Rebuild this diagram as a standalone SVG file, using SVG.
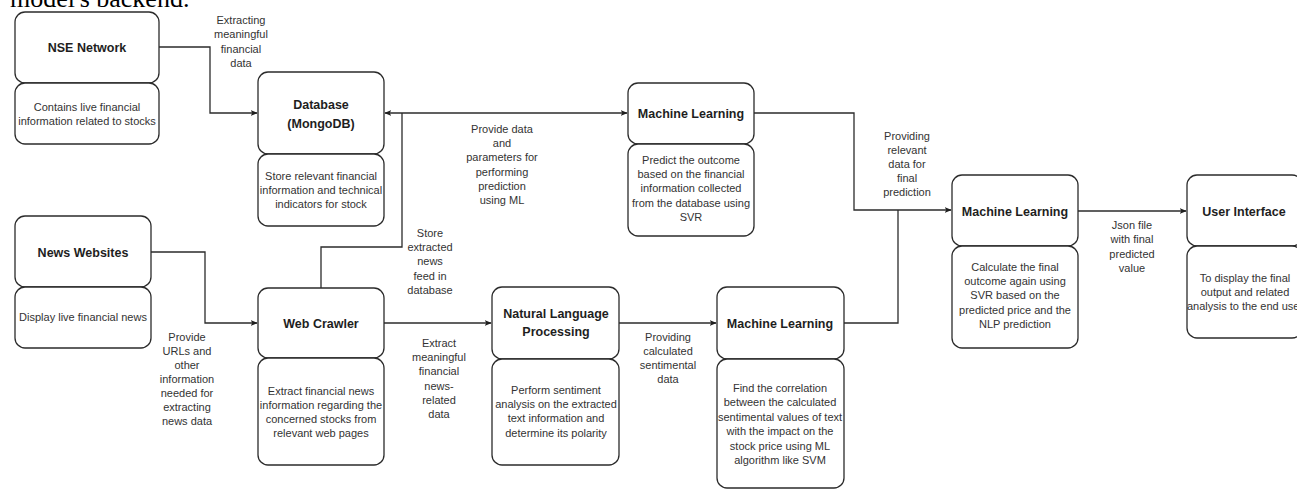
<svg xmlns="http://www.w3.org/2000/svg" width="1297" height="489" viewBox="0 0 1297 489">
<defs>
<style>
.box{fill:#fff;stroke:#2b2b2b;stroke-width:1.3}
.t{font-family:"Liberation Sans",Arial,sans-serif;font-size:12.5px;font-weight:bold;fill:#1e1e1e;text-anchor:middle}
.d{font-family:"Liberation Sans",Arial,sans-serif;font-size:11px;fill:#333;text-anchor:middle}
.l{font-family:"Liberation Sans",Arial,sans-serif;font-size:11px;fill:#333;text-anchor:middle}
.c{fill:none;stroke:#2b2b2b;stroke-width:1.3}
</style>
<marker id="ah" viewBox="0 0 10 10" refX="9" refY="5" markerWidth="7" markerHeight="7" orient="auto-start-reverse" markerUnits="userSpaceOnUse">
<path d="M0,1 L10,5 L0,9 L2.5,5 Z" fill="#1e1e1e"/>
</marker>
</defs>
<rect width="1297" height="489" fill="#fff"/>
<text x="10" y="7" font-family="'Liberation Serif','Times New Roman',serif" font-size="26" fill="#000">model's backend.</text>

<g id="connectors">
<path class="c" d="M159,47 H210 V113 H257" marker-end="url(#ah)"/>
<path class="c" d="M385,113 H627" marker-start="url(#ah)" marker-end="url(#ah)"/>
<path class="c" d="M321,288 V247 H402 V113"/>
<path class="c" d="M151,252 H205 V323 H257" marker-end="url(#ah)"/>
<path class="c" d="M384,323 H491" marker-end="url(#ah)"/>
<path class="c" d="M619,323 H716" marker-end="url(#ah)"/>
<path class="c" d="M754,113 H854 V210 H951" marker-end="url(#ah)"/>
<path class="c" d="M844,323 H898 V210"/>
<path class="c" d="M1078,211 H1186" marker-end="url(#ah)"/>
<text class="l" x="241" y="24"><tspan x="241">Extracting</tspan><tspan x="241" dy="14.3">meaningful</tspan><tspan x="241" dy="14.3">financial</tspan><tspan x="241" dy="14.3">data</tspan></text>
<text class="l" x="502" y="133"><tspan x="502">Provide data</tspan><tspan x="502" dy="14.2">and</tspan><tspan x="502" dy="14.2">parameters for</tspan><tspan x="502" dy="14.2">performing</tspan><tspan x="502" dy="14.2">prediction</tspan><tspan x="502" dy="14.2">using ML</tspan></text>
<text class="l" x="907" y="140"><tspan x="907">Providing</tspan><tspan x="907" dy="14">relevant</tspan><tspan x="907" dy="14">data for</tspan><tspan x="907" dy="14">final</tspan><tspan x="907" dy="14">prediction</tspan></text>
<text class="l" x="430" y="237"><tspan x="430">Store</tspan><tspan x="430" dy="14.2">extracted</tspan><tspan x="430" dy="14.2">news</tspan><tspan x="430" dy="14.2">feed in</tspan><tspan x="430" dy="14.2">database</tspan></text>
<text class="l" x="187" y="341"><tspan x="187">Provide</tspan><tspan x="187" dy="14">URLs and</tspan><tspan x="187" dy="14">other</tspan><tspan x="187" dy="14">information</tspan><tspan x="187" dy="14">needed for</tspan><tspan x="187" dy="14">extracting</tspan><tspan x="187" dy="14">news data</tspan></text>
<text class="l" x="439" y="347"><tspan x="439">Extract</tspan><tspan x="439" dy="14.2">meaningful</tspan><tspan x="439" dy="14.2">financial</tspan><tspan x="439" dy="14.2">news-</tspan><tspan x="439" dy="14.2">related</tspan><tspan x="439" dy="14.2">data</tspan></text>
<text class="l" x="668" y="341"><tspan x="668">Providing</tspan><tspan x="668" dy="14">calculated</tspan><tspan x="668" dy="14">sentimental</tspan><tspan x="668" dy="14">data</tspan></text>
<text class="l" x="1132" y="229"><tspan x="1132">Json file</tspan><tspan x="1132" dy="14.3">with final</tspan><tspan x="1132" dy="14.3">predicted</tspan><tspan x="1132" dy="14.3">value</tspan></text>
</g>

<g id="nse">
<rect class="box" x="15" y="12" width="144" height="71" rx="10"/>
<rect class="box" x="15" y="83" width="144" height="61" rx="10"/>
<text class="t" x="87" y="51.5">NSE Network</text>
<text class="d" x="87" y="111"><tspan x="87">Contains live financial</tspan><tspan x="87" dy="13.8">information related to stocks</tspan></text>
</g>

<g id="database">
<rect class="box" x="258" y="72" width="126" height="82" rx="10"/>
<rect class="box" x="258" y="154" width="126" height="72" rx="10"/>
<text class="t" x="321" y="108.5"><tspan x="321">Database</tspan><tspan x="321" dy="19">(MongoDB)</tspan></text>
<text class="d" x="321" y="180"><tspan x="321">Store relevant financial</tspan><tspan x="321" dy="14">information and technical</tspan><tspan x="321" dy="14">indicators for stock</tspan></text>
</g>

<g id="ml1">
<rect class="box" x="628" y="83" width="126" height="61" rx="10"/>
<rect class="box" x="628" y="144" width="126" height="92" rx="10"/>
<text class="t" x="691" y="117.5">Machine Learning</text>
<text class="d" x="691" y="164"><tspan x="691">Predict the outcome</tspan><tspan x="691" dy="14.2">based on the financial</tspan><tspan x="691" dy="14.2">information collected</tspan><tspan x="691" dy="14.2">from the database using</tspan><tspan x="691" dy="14.2">SVR</tspan></text>
</g>

<g id="news">
<rect class="box" x="15" y="216" width="136" height="71" rx="10"/>
<rect class="box" x="15" y="287" width="136" height="61" rx="10"/>
<text class="t" x="83" y="256.5">News Websites</text>
<text class="d" x="83" y="321">Display live financial  news</text>
</g>

<g id="webcrawler">
<rect class="box" x="258" y="288" width="126" height="70" rx="10"/>
<rect class="box" x="258" y="358" width="126" height="107" rx="10"/>
<text class="t" x="321" y="327.5">Web Crawler</text>
<text class="d" x="321" y="395"><tspan x="321">Extract financial news</tspan><tspan x="321" dy="14">information regarding the</tspan><tspan x="321" dy="14">concerned stocks from</tspan><tspan x="321" dy="14">relevant web pages</tspan></text>
</g>

<g id="nlp">
<rect class="box" x="492" y="287" width="127" height="72" rx="10"/>
<rect class="box" x="492" y="359" width="127" height="106" rx="10"/>
<text class="t" x="556" y="317.5"><tspan x="556">Natural Language</tspan><tspan x="556" dy="18">Processing</tspan></text>
<text class="d" x="556" y="394"><tspan x="556">Perform sentiment</tspan><tspan x="556" dy="14.2">analysis on the extracted</tspan><tspan x="556" dy="14.2">text information and</tspan><tspan x="556" dy="14.2">determine its polarity</tspan></text>
</g>

<g id="ml2">
<rect class="box" x="717" y="287" width="127" height="72" rx="10"/>
<rect class="box" x="717" y="359" width="127" height="129" rx="10"/>
<text class="t" x="780" y="327.5">Machine Learning</text>
<text class="d" x="780" y="392"><tspan x="780">Find the correlation</tspan><tspan x="780" dy="14.4">between the calculated</tspan><tspan x="780" dy="14.4">sentimental values of text</tspan><tspan x="780" dy="14.4">with the impact on the</tspan><tspan x="780" dy="14.4">stock price using ML</tspan><tspan x="780" dy="14.4">algorithm like SVM</tspan></text>
</g>

<g id="ml3">
<rect class="box" x="952" y="175" width="126" height="71" rx="10"/>
<rect class="box" x="952" y="246" width="126" height="102" rx="10"/>
<text class="t" x="1015" y="215.5">Machine Learning</text>
<text class="d" x="1015" y="271"><tspan x="1015">Calculate the final</tspan><tspan x="1015" dy="14.2">outcome again using</tspan><tspan x="1015" dy="14.2">SVR based on the</tspan><tspan x="1015" dy="14.2">predicted price and the</tspan><tspan x="1015" dy="14.2">NLP prediction</tspan></text>
</g>

<g id="ui">
<rect class="box" x="1187" y="175" width="115" height="71" rx="10"/>
<rect class="box" x="1187" y="246" width="115" height="92" rx="10"/>
<text class="t" x="1244" y="215.5">User Interface</text>
<text class="d" x="1245" y="282"><tspan x="1245">To display the final</tspan><tspan x="1245" dy="14">output and related</tspan><tspan x="1245" dy="14">analysis to the end user</tspan></text>
</g>
</svg>
